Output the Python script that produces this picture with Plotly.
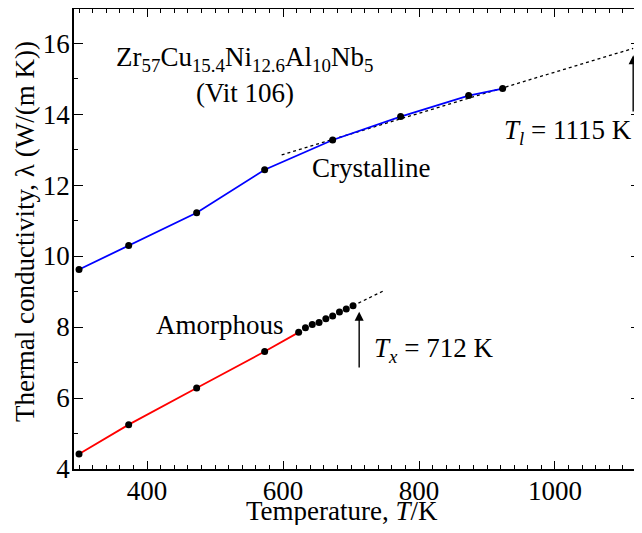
import plotly.graph_objects as go

# ---- data ----
cryst_T = [300, 373, 473, 573, 673, 773, 873, 923]
cryst_lam = [9.62, 10.3, 11.22, 12.43, 13.27, 13.93, 14.52, 14.72]

amor_T = [300, 373, 473, 573, 623, 633, 643, 653, 663, 673, 683, 693, 703]
amor_lam = [4.42, 5.25, 6.28, 7.31, 7.85, 7.98, 8.07, 8.13, 8.23, 8.31, 8.42, 8.51, 8.60]

cryst_fit_T = [598, 1115]
cryst_fit_lam = [12.85, 15.85]
amor_fit_T = [703, 750]
amor_fit_lam = [8.60, 9.04]

Tx = 712
Tl = 1115
x_ticks = [400, 600, 800, 1000]
y_ticks = [4, 6, 8, 10, 12, 14, 16]

FONT = "Liberation Serif, Times New Roman, serif"
FS = 27

fig = go.Figure()

# dotted extrapolations
fig.add_trace(go.Scatter(x=cryst_fit_T, y=cryst_fit_lam, mode="lines",
                         line=dict(color="black", width=1.3, dash="dot"),
                         showlegend=False, hoverinfo="skip"))
fig.add_trace(go.Scatter(x=amor_fit_T, y=amor_fit_lam, mode="lines",
                         line=dict(color="black", width=1.3, dash="dot"),
                         showlegend=False, hoverinfo="skip"))
# crystalline (blue)
fig.add_trace(go.Scatter(x=cryst_T, y=cryst_lam, mode="lines",
                         line=dict(color="#0000ff", width=1.8), showlegend=False))
# amorphous (red) line up to 623 K
fig.add_trace(go.Scatter(x=amor_T[:5], y=amor_lam[:5], mode="lines",
                         line=dict(color="#ff0000", width=1.8), showlegend=False))
# markers
fig.add_trace(go.Scatter(x=cryst_T, y=cryst_lam, mode="markers",
                         marker=dict(color="black", size=7), showlegend=False))
fig.add_trace(go.Scatter(x=amor_T, y=amor_lam, mode="markers",
                         marker=dict(color="black", size=7), showlegend=False))
# invisible trace that carries the right-hand tick axis
fig.add_trace(go.Scatter(x=cryst_T, y=cryst_lam, mode="lines", yaxis="y2",
                         opacity=0, showlegend=False, hoverinfo="skip"))

fig.update_layout(
    width=626, height=517,
    margin=dict(l=66, r=0, t=1, b=56),
    paper_bgcolor="white", plot_bgcolor="white",
    font=dict(family=FONT, size=FS, color="black"),
    showlegend=False,
    xaxis=dict(range=[292.6, 1116.2], tickvals=x_ticks, showgrid=False, zeroline=False,
               showline=True, linecolor="black", linewidth=1.5, mirror="ticks",
               ticks="inside", ticklen=8, tickwidth=1.2, tickcolor="black",
               ticklabelstandoff=-3,
               minor=dict(dtick=20, tick0=0, ticks="inside", ticklen=4, tickwidth=1.2,
                          tickcolor="black", showgrid=False),
               tickfont=dict(family=FONT, size=FS)),
    yaxis=dict(range=[4, 16.96], tickvals=y_ticks, showgrid=False, zeroline=False,
               showline=True, linecolor="black", linewidth=1.5, mirror=False,
               ticks="inside", ticklen=9, tickwidth=1.2, tickcolor="black",
               ticklabelstandoff=-3,
               minor=dict(dtick=1, tick0=0, ticks="inside", ticklen=4, tickwidth=1.2,
                          tickcolor="black", showgrid=False),
               tickfont=dict(family=FONT, size=FS)),
    yaxis2=dict(overlaying="y", side="right", matches="y", tickvals=y_ticks,
                showticklabels=False, showgrid=False, zeroline=False, showline=False,
                ticks="inside", ticklen=3, tickwidth=1.2, tickcolor="black"),
)

ann = []
ann.append(dict(x=0.4786, y=-0.091, xref="paper", yref="paper", xanchor="center", yanchor="middle",
                text="Temperature, <i>T</i>/K", showarrow=False, font=dict(size=FS)))
ann.append(dict(x=-0.0875, y=0.515, xref="paper", yref="paper", xanchor="center", yanchor="middle",
                text="Thermal conductivity, λ (W/(m K))", textangle=-90, showarrow=False,
                font=dict(size=FS)))
ann.append(dict(x=544, y=15.55, xref="x", yref="y", xanchor="center", yanchor="middle",
                text="Zr<sub>57</sub>Cu<sub>15.4</sub>Ni<sub>12.6</sub>Al<sub>10</sub>Nb<sub>5</sub>",
                showarrow=False, font=dict(size=FS)))
ann.append(dict(x=544, y=14.59, xref="x", yref="y", xanchor="center", yanchor="middle",
                text="(Vit 106)", showarrow=False, font=dict(size=FS)))
ann.append(dict(x=729, y=12.48, xref="x", yref="y", xanchor="center", yanchor="middle",
                text="Crystalline", showarrow=False, font=dict(size=FS)))
ann.append(dict(x=1116, y=13.49, xref="x", yref="y", xanchor="right", yanchor="middle",
                text="<i>T</i><sub><i>l</i></sub> = 1115 K", showarrow=False, font=dict(size=FS)))
ann.append(dict(x=507, y=8.06, xref="x", yref="y", xanchor="center", yanchor="middle",
                text="Amorphous", showarrow=False, font=dict(size=FS)))
ann.append(dict(x=731, y=7.35, xref="x", yref="y", xanchor="left", yanchor="middle",
                text="<i>T</i><sub><i>x</i></sub> = 712 K", showarrow=False, font=dict(size=FS)))
# arrows
ann.append(dict(x=Tx, y=8.43, ax=Tx, ay=6.82, xref="x", yref="y", axref="x", ayref="y",
                text="", showarrow=True, arrowhead=2, arrowsize=1.3, arrowwidth=1.4,
                arrowcolor="black"))
ann.append(dict(x=Tl, y=15.66, ax=Tl, ay=14.03, xref="x", yref="y", axref="x", ayref="y",
                text="", showarrow=True, arrowhead=2, arrowsize=1.3, arrowwidth=1.4,
                arrowcolor="black"))
fig.update_layout(annotations=ann)

fig.write_html("out.html")
